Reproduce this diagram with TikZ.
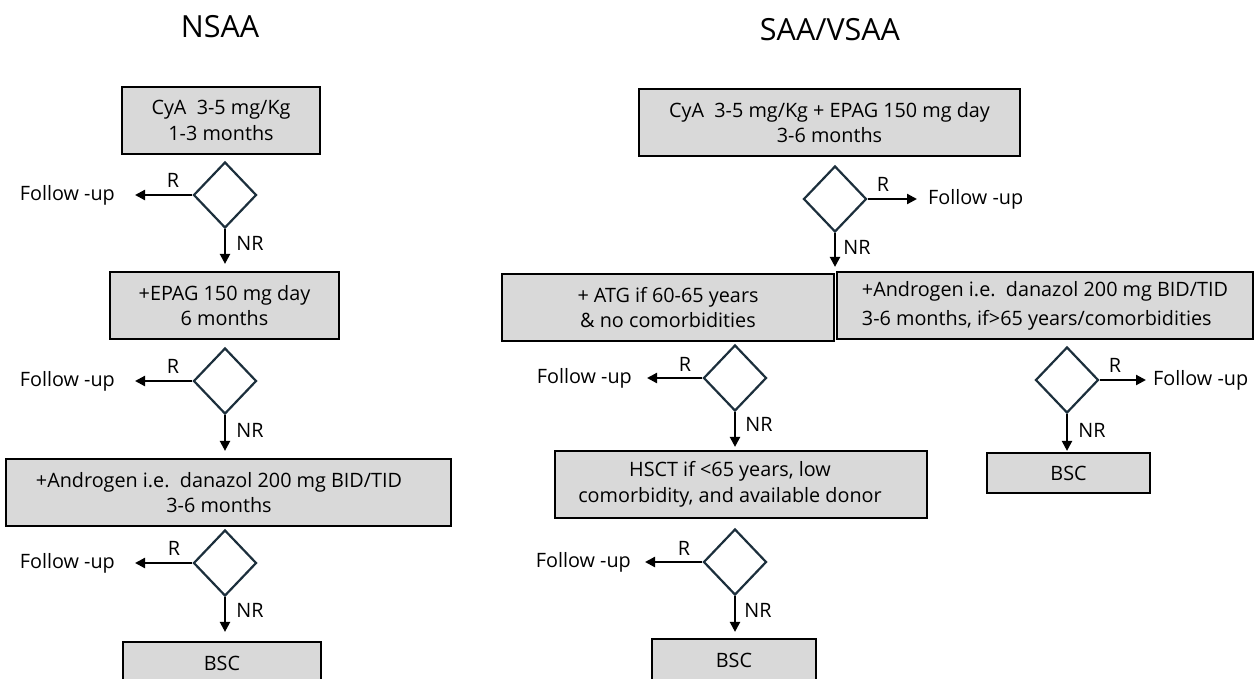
\documentclass[tikz,border=0pt]{standalone}
\usepackage{fontspec}
\setmainfont{Open Sans}
\usetikzlibrary{shapes.geometric,arrows.meta}
\definecolor{boxgray}{HTML}{D9D9D9}
\definecolor{dmd}{HTML}{1C2F3C}
\begin{document}
\begin{tikzpicture}[x=1pt,y=-1pt,
  every node/.style={font=\fontsize{19.8}{25.5}\selectfont},
  box/.style={draw=black, fill=boxgray, line width=2.2pt, rectangle, inner sep=0pt, align=center},
  dec/.style={draw=dmd, diamond, line width=2.2pt, inner sep=0pt, minimum width=63pt, minimum height=66pt},
  arr/.style={line width=2.2pt, -{Triangle[length=10pt,width=10pt]}},
  ttl/.style={font=\fontsize{30.5}{36}\selectfont},
  lbl/.style={inner sep=0pt}
]
\useasboundingbox (0,0) rectangle (1258,678);
\clip (0,0) rectangle (1258,678);

% titles
\node[ttl] (t1) at (220,27) {NSAA};
\node[ttl] (t2) at (830,30) {SAA/VSAA};

% ---------------- left column (NSAA)
\node[box, minimum width=198pt, minimum height=67pt] (b1) at (221,120.5) {CyA\ \ 3-5 mg/Kg\\1-3 months};
\node[dec] (d1) at (225,195) {};
\node[lbl, anchor=east] (f1) at (115,195) {Follow -up};
\node[lbl] (r1) at (173,180) {R};
\node[lbl] (n1) at (250,243) {NR};
\node[box, minimum width=229pt, minimum height=67pt] (b2) at (224.5,305.5) {+EPAG 150 mg day\\6 months};

\node[dec] (d2) at (225,381) {};
\node[lbl, anchor=east] (f2) at (115,381) {Follow -up};
\node[lbl] (r2) at (173,366) {R};
\node[lbl] (n2) at (250,430) {NR};
\node[box, minimum width=445pt, minimum height=67pt] (b3) at (228.5,492.5) {};
\node[lbl, align=center] (b3t) at (219,492.5) {+Androgen i.e.~~danazol 200 mg BID/TID\\3-6 months};

\node[dec] (d3) at (225,563) {};
\node[lbl, anchor=east] (f3) at (115,563) {Follow -up};
\node[lbl] (r3) at (174,548) {R};
\node[lbl] (n3) at (250,610) {NR};
\node[box, minimum width=198pt, minimum height=42pt] (b4) at (222,663) {BSC};

\draw[arr] (d1.west) -- ([xshift=20pt]f1.east);
\draw[arr, shorten >=7pt] (d1.south) -- (d1.south |- b2.north);
\draw[arr] (d2.west) -- ([xshift=20pt]f2.east);
\draw[arr, shorten >=7pt] (d2.south) -- (d2.south |- b3.north);
\draw[arr] (d3.west) -- ([xshift=20pt]f3.east);
\draw[arr, shorten >=9pt] (d3.south) -- (d3.south |- b4.north);

% ---------------- right part (SAA/VSAA)
\node[box, minimum width=381pt, minimum height=67pt] (c1) at (829.5,122.5) {CyA\ \ 3-5 mg/Kg + EPAG 150 mg day\\3-6 months};
\node[dec] (e1) at (835,199) {};
\node[lbl, anchor=west] (f4) at (928,199) {Follow -up};
\node[lbl] (r4) at (883,184) {R};
\node[lbl] (n4) at (857,247) {NR};

\node[box, minimum width=332pt, minimum height=67pt] (c2) at (668,307.5) {+ ATG if 60-65 years\\\& no comorbidities};
\node[box, minimum width=416pt, minimum height=67pt, align=left, font=\fontsize{19.8}{29}\selectfont] (c3) at (1045,305.5) {+Androgen i.e.~~danazol 200 mg BID/TID\\3-6 months, if>65 years/comorbidities};

\draw[arr] (e1.east) -- ([xshift=-11pt]f4.west);
\draw[arr, shorten >=6pt] (e1.south) -- (e1.south |- c2.north);

% ATG branch
\node[dec] (e2) at (735,378) {};
\node[lbl, anchor=east] (f5) at (632,378) {Follow -up};
\node[lbl] (r5) at (685,364) {R};
\node[lbl] (n5) at (759,424) {NR};
\node[box, minimum width=372pt, minimum height=67pt] (c4) at (741,484.5) {};
\node[lbl, align=center] (c4t) at (730,484.5) {HSCT if <65 years, low\\comorbidity, and available donor};

\node[dec] (e3) at (735,562) {};
\node[lbl, anchor=east] (f6) at (631,562) {Follow -up};
\node[lbl] (r6) at (684,548) {R};
\node[lbl] (n6) at (758,610) {NR};
\node[box, minimum width=164pt, minimum height=42pt] (c5) at (734,660) {BSC};

\draw[arr] (e2.west) -- ([xshift=15pt]f5.east);
\draw[arr, shorten >=3pt] (e2.south) -- (e2.south |- c4.north);
\draw[arr] (e3.west) -- ([xshift=14pt]f6.east);
\draw[arr, shorten >=6pt] (e3.south) -- (e3.south |- c5.north);

% Androgen branch
\node[dec] (e4) at (1067,380) {};
\node[lbl, anchor=west] (f7) at (1153,380) {Follow -up};
\node[lbl] (r7) at (1115,365) {R};
\node[lbl] (n7) at (1092,430) {NR};
\node[box, minimum width=163pt, minimum height=40pt] (c6) at (1068.5,473) {BSC};

\draw[arr] (e4.east) -- ([xshift=-7pt]f7.west);
\draw[arr, shorten >=1pt] (e4.south) -- (e4.south |- c6.north);
\end{tikzpicture}
\end{document}
